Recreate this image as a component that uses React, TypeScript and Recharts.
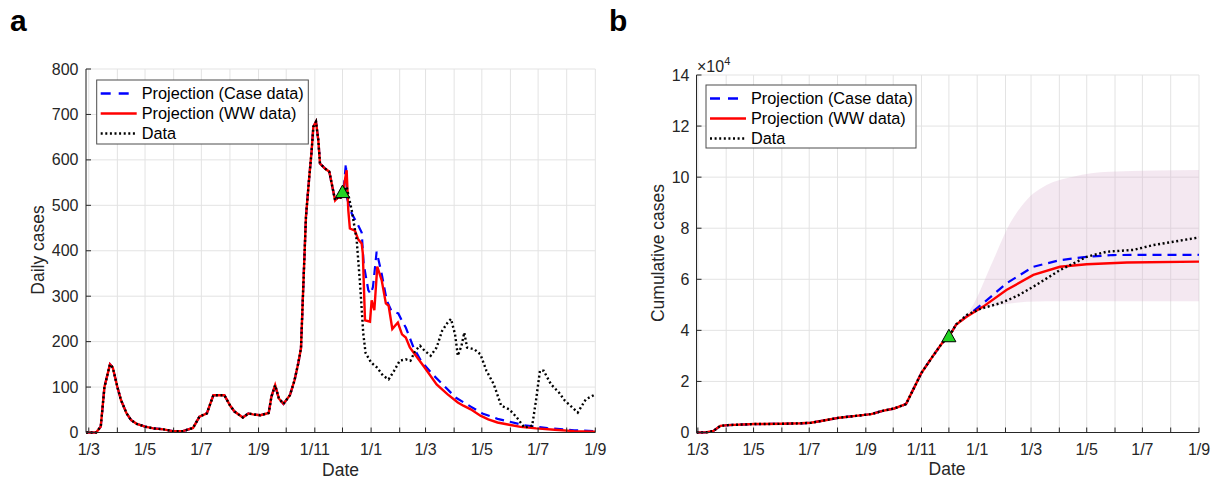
import { Area, CartesianGrid, ComposedChart, Line, Scatter, XAxis, YAxis } from "recharts";

type Pt = [number, number];

// x = days since 1 Mar 2020
const monthTicks = [0, 31, 61, 92, 122, 153, 184, 214, 245, 275, 306, 337, 365, 396, 426, 457, 487, 518, 549];
const monthLabels = ["1/3", "", "1/5", "", "1/7", "", "1/9", "", "1/11", "", "1/1", "", "1/3", "", "1/5", "", "1/7", "", "1/9"];
const dailyTicks = [0, 100, 200, 300, 400, 500, 600, 700, 800];
const cumTicks = [0, 20000, 40000, 60000, 80000, 100000, 120000, 140000];

const projectionStart = 276;

const dailyObserved: Pt[] = [
  [-3, 0], [8, 0], [13, 13], [17, 100], [23, 150], [26, 143], [31, 100], [35, 71], [41, 42], [46, 27],
  [52, 19], [61, 13], [70, 9], [81, 7], [91, 3], [102, 3], [113, 10], [120, 35], [128, 42], [135, 82],
  [142, 82], [147, 82], [153, 60], [158, 46], [167, 33], [173, 42], [178, 40], [186, 38], [195, 43],
  [198, 79], [202, 104], [206, 75], [211, 63], [218, 82], [223, 115], [227, 152], [230, 185], [232.5, 321],
  [235.4, 475], [239, 563], [241.6, 621], [243.4, 673], [246.3, 684], [248.8, 643], [250.6, 592], [256, 581],
  [260.7, 574], [263.3, 548], [267, 511], [270.5, 519], [273, 517], [276, 530], [279.5, 541], [285, 489],
  [290.4, 423], [294, 328], [297.5, 218], [300, 175], [306, 154], [312.5, 143], [319, 125], [325, 117],
  [331, 136], [337, 158], [343.6, 161], [348.6, 158], [354, 180], [359, 191], [364, 180], [370.6, 169],
  [377, 187], [383, 224], [389, 242], [392.6, 250], [397, 216], [400, 169], [404, 191], [407, 220],
  [410, 187], [418, 183], [424.5, 172], [431, 136], [439, 106], [447, 59], [455.7, 51], [464, 33],
  [472, 11], [480.6, 15], [484.7, 70], [489, 136], [493, 136], [501, 106], [509.6, 88], [516, 70],
  [522, 59], [530, 44], [538.7, 73], [549, 84],
];

const dailyCaseProj: Pt[] = [
  [278.7, 592], [280, 515], [285, 482], [291, 460], [295.8, 440], [298, 370], [303, 313], [305.5, 305],
  [308, 320], [312, 398], [317.5, 349], [323, 290], [328, 268], [335.5, 262], [339.5, 246], [343.6, 231],
  [352, 187], [360, 158], [372.7, 128], [385, 103], [397.6, 77], [414, 57], [426.6, 42], [443, 30],
  [455.7, 24], [472, 16], [497, 9.5], [526, 5], [549, 3],
];

const dailyWwProj: Pt[] = [
  [278, 560], [279.5, 577], [281.3, 489], [283, 449], [288.5, 444], [292, 425], [295.8, 416], [297, 395],
  [299.4, 247], [304.8, 244], [306.6, 291], [309.5, 269], [312.7, 365], [317.5, 335], [322, 284], [325, 279],
  [329, 228], [335, 242], [339.5, 216], [343.6, 209], [348, 187], [356, 165], [364, 143], [377, 106],
  [389, 84], [400, 66], [406, 59], [414, 51], [424.5, 37], [433, 29], [443, 22], [455.7, 17], [468, 12.5],
  [485, 9], [505, 6], [526, 3], [549, 1.5],
];

const cumObserved: Pt[] = [
  [-1.5, 0], [10, 100], [17, 600], [24.6, 2600], [33, 2900], [62, 3300], [92, 3400], [113, 3600],
  [124, 3800], [141, 4900], [155, 5800], [173, 6500], [190, 7200], [202.5, 8500], [215, 9400], [228, 11100],
  [236, 16900], [245, 23400], [257.6, 30000], [268, 35200], [275, 37500], [283, 42300], [294.4, 46000],
  [310, 48500], [331, 50600], [350, 53500], [367.5, 57100], [396.7, 63600], [426, 68800], [448, 70800],
  [477, 71500], [499, 73400], [521, 74700], [549, 76400],
];

const cumCaseProj: Pt[] = [
  [283, 42300], [294.4, 45500], [312.6, 50600], [338, 58400], [367.5, 64900], [396.7, 67500],
  [426, 68800], [455, 69500], [549, 69600],
];

const cumWwProj: Pt[] = [
  [283, 42300], [294.4, 45300], [312.6, 49300], [338, 55800], [367.5, 61700], [396.7, 64900],
  [426, 65900], [470, 66600], [549, 66900],
];

// [day, lower, upper]
const cumBand: [number, number, number][] = [
  [288, 44000, 44000], [298, 46700, 48000], [323.6, 49300, 67500], [342, 50500, 81900],
  [360, 51200, 91000], [382, 51400, 96900], [411, 51400, 100200], [451, 51400, 102100], [549, 51400, 102800],
];

const dailyMarker: Pt[] = [[275, 528]];
const cumMarker: Pt[] = [[275, 37500]];

const FONT = "'Liberation Sans', Arial, sans-serif";
const AXIS = "#262626";
const GRID = "#e3e3e3";

const toPts = (arr: Pt[]) => arr.map(([x, y]) => ({ x, y }));
const withHistory = (hist: Pt[], proj: Pt[], cut: number) => toPts([...hist.filter(([d]) => d <= cut), ...proj]);

const XTick = (props: any) => {
  const { x, y, payload } = props;
  const label = monthLabels[monthTicks.indexOf(payload.value)];
  return (
    <g>
      <line x1={x} x2={x} y1={y} y2={y - 5} stroke={AXIS} />
      {label ? (
        <text x={x} y={y + 22.5} textAnchor="middle" fontSize={16} fontFamily={FONT} fill={AXIS}>
          {label}
        </text>
      ) : null}
    </g>
  );
};

const makeYTick = (fmt: (v: number) => string, gap: number) => (props: any) => {
  const { x, y, payload } = props;
  return (
    <g>
      <line x1={x} x2={x + 5} y1={y} y2={y} stroke={AXIS} />
      <text x={x - gap} y={y} dy="0.35em" textAnchor="end" fontSize={16} fontFamily={FONT} fill={AXIS}>
        {fmt(payload.value)}
      </text>
    </g>
  );
};

const Triangle = (props: any) => {
  const { cx, cy } = props;
  return <polygon points={`${cx},${cy - 7.5} ${cx - 7},${cy + 5} ${cx + 7},${cy + 5}`} fill="#22d322" stroke="#000" strokeWidth={1} />;
};

const seriesLines = (caseData: any[], wwData: any[], obsData: any[]) => [
  <Line key="case" data={caseData} dataKey="y" type="linear" stroke="#0000ff" strokeWidth={2.2} strokeDasharray="9 6" dot={false} isAnimationActive={false} />,
  <Line key="ww" data={wwData} dataKey="y" type="linear" stroke="#ff0000" strokeWidth={2.4} dot={false} isAnimationActive={false} />,
  <Line key="obs" data={obsData} dataKey="y" type="linear" stroke="#000" strokeWidth={2.4} strokeDasharray="2 2.6" dot={false} isAnimationActive={false} />,
];

const Legend = ({ x, y, w, h }: { x: number; y: number; w: number; h: number }) => {
  const rows = [y + 13.5, y + 33.5, y + 53.5];
  return (
    <g>
      <rect x={x} y={y} width={w} height={h} fill="#fff" stroke="#4d4d4d" strokeWidth={1} />
      <line x1={x + 4} x2={x + 40} y1={rows[0]} y2={rows[0]} stroke="#0000ff" strokeWidth={2.4} strokeDasharray="10 8" />
      <line x1={x + 4} x2={x + 40} y1={rows[1]} y2={rows[1]} stroke="#ff0000" strokeWidth={2.4} />
      <line x1={x + 4} x2={x + 40} y1={rows[2]} y2={rows[2]} stroke="#000" strokeWidth={2.4} strokeDasharray="2 2.6" />
      {["Projection (Case data)", "Projection (WW data)", "Data"].map((t, i) => (
        <text key={t} x={x + 45} y={rows[i]} dy="0.35em" fontSize={16.3} fontFamily={FONT} fill="#000">
          {t}
        </text>
      ))}
    </g>
  );
};

export default function App() {
  const dCase = withHistory(dailyObserved, dailyCaseProj, projectionStart);
  const dWw = withHistory(dailyObserved, dailyWwProj, projectionStart);
  const dObs = toPts(dailyObserved);
  const cCase = withHistory(cumObserved, cumCaseProj, 275);
  const cWw = withHistory(cumObserved, cumWwProj, 275);
  const cObs = toPts(cumObserved);
  const band = cumBand.map(([x, lo, hi]) => ({ x, range: [lo, hi] }));

  return (
    <div style={{ position: "relative", width: 1215, height: 479, background: "#fff" }}>
      <style>{"body{margin:0}"}</style>

      <div style={{ position: "absolute", left: 0, top: 0 }}>
        <ComposedChart width={607} height={479} margin={{ top: 69, right: 11.7, bottom: 16.5, left: 0 }}>
          <CartesianGrid stroke={GRID} strokeWidth={1} />
          <XAxis
            type="number"
            dataKey="x"
            domain={[-3, 549]}
            allowDataOverflow
            ticks={monthTicks}
            interval={0}
            height={30}
            tickSize={0}
            tickMargin={0}
            tickLine={false}
            tick={<XTick />}
            axisLine={{ stroke: AXIS }}
          />
          <YAxis
            type="number"
            domain={[0, 800]}
            ticks={dailyTicks}
            interval={0}
            width={86}
            tickSize={0}
            tickMargin={0}
            tickLine={false}
            tick={makeYTick((v) => String(v), 7.5)}
            axisLine={{ stroke: AXIS }}
          />
          {seriesLines(dCase, dWw, dObs)}
          <Scatter data={toPts(dailyMarker)} dataKey="y" shape={<Triangle />} isAnimationActive={false} />
        </ComposedChart>
      </div>

      <div style={{ position: "absolute", left: 607, top: 0 }}>
        <ComposedChart width={608} height={479} margin={{ top: 75, right: 16, bottom: 16.5, left: 0 }}>
          <CartesianGrid stroke={GRID} strokeWidth={1} />
          <XAxis
            type="number"
            dataKey="x"
            domain={[-1.5, 549]}
            allowDataOverflow
            ticks={monthTicks}
            interval={0}
            height={30}
            tickSize={0}
            tickMargin={0}
            tickLine={false}
            tick={<XTick />}
            axisLine={{ stroke: AXIS }}
          />
          <YAxis
            type="number"
            domain={[0, 140000]}
            ticks={cumTicks}
            interval={0}
            width={89.5}
            tickSize={0}
            tickMargin={0}
            tickLine={false}
            tick={makeYTick((v) => String(v / 10000), 7)}
            axisLine={{ stroke: AXIS }}
          />
          <Area data={band} dataKey="range" type="monotone" stroke="none" fill="#d9b3d0" fillOpacity={0.3} isAnimationActive={false} />
          {seriesLines(cCase, cWw, cObs)}
          <Scatter data={toPts(cumMarker)} dataKey="y" shape={<Triangle />} isAnimationActive={false} />
        </ComposedChart>
      </div>

      <svg width={1215} height={479} style={{ position: "absolute", left: 0, top: 0, pointerEvents: "none" }}>
        <text x={10} y={31} fontSize={30} fontWeight="bold" fontFamily={FONT} fill="#000">a</text>
        <text x={609} y={31} fontSize={30} fontWeight="bold" fontFamily={FONT} fill="#000">b</text>

        <text x={38} y={250} transform="rotate(-90 38 250)" textAnchor="middle" dy="0.35em" fontSize={17.5} fontFamily={FONT} fill={AXIS}>
          Daily cases
        </text>
        <text x={340.6} y={476} textAnchor="middle" fontSize={17.5} fontFamily={FONT} fill={AXIS}>Date</text>

        <text x={657.5} y={253} transform="rotate(-90 657.5 253)" textAnchor="middle" dy="0.35em" fontSize={17.5} fontFamily={FONT} fill={AXIS}>
          Cumulative cases
        </text>
        <text x={947} y={475} textAnchor="middle" fontSize={17.5} fontFamily={FONT} fill={AXIS}>Date</text>

        <text x={697} y={71.5} fontSize={16} fontFamily={FONT} fill={AXIS}>
          ×10<tspan dy={-7} fontSize={11}>4</tspan>
        </text>

        <Legend x={96.7} y={80} w={211.6} h={64} />
        <Legend x={706} y={85} w={210} h={63} />
      </svg>
    </div>
  );
}
